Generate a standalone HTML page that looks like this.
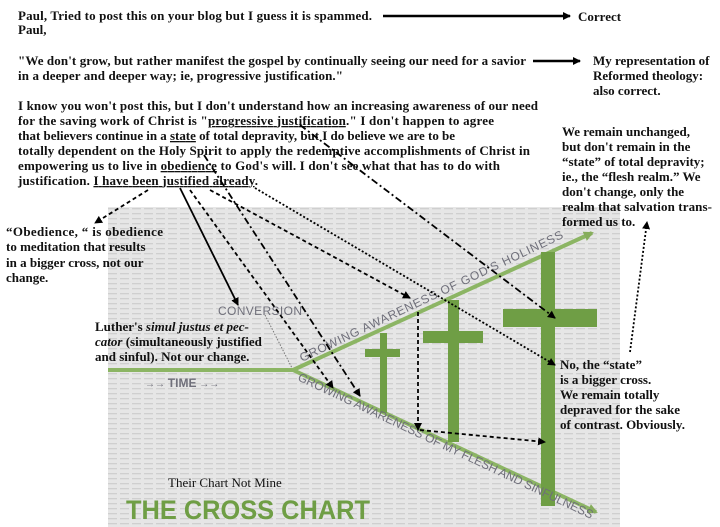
<!DOCTYPE html>
<html><head><meta charset="utf-8"><style>
html,body{margin:0;padding:0;background:#fff;width:720px;height:527px;overflow:hidden}
svg{display:block}
.t{font-family:"Liberation Serif",serif;font-weight:bold;font-size:13px;fill:#111}
.g{font-family:"Liberation Sans",sans-serif;fill:#6f6f7a}
</style></head><body>
<svg width="720" height="527" viewBox="0 0 720 527" xmlns="http://www.w3.org/2000/svg">
<defs>
<pattern id="st" width="12" height="5" patternUnits="userSpaceOnUse">
<rect width="12" height="5" fill="#e6e6e6"/>
<rect x="0" y="3" width="9" height="1.3" fill="#cfcfcf"/>
</pattern>
<marker id="ah" markerWidth="8" markerHeight="8" refX="7" refY="4" orient="auto" markerUnits="userSpaceOnUse"><path d="M0,0 L8,4 L0,8 z" fill="#000"/></marker>
<marker id="ag" markerWidth="10" markerHeight="10" refX="8" refY="5" orient="auto" markerUnits="userSpaceOnUse"><path d="M0,0 L10,5 L0,10 z" fill="#86ad5c"/></marker>
</defs>
<rect x="108" y="207" width="512" height="320" fill="url(#st)"/>

<g stroke="#8cb564" stroke-width="4" fill="none">
<line x1="108" y1="370" x2="293" y2="370"/>
<line x1="293" y1="370" x2="592" y2="233" marker-end="url(#ag)"/>
<line x1="293" y1="370" x2="596" y2="512" marker-end="url(#ag)"/>
</g>
<g fill="#6f9e45">
<rect x="380" y="333" width="7" height="80"/><rect x="365" y="349" width="35" height="8"/>
<rect x="448" y="300" width="11" height="142"/><rect x="423" y="331" width="60" height="12"/>
<rect x="541" y="252" width="14" height="254"/><rect x="503" y="309" width="94" height="18"/>
</g>
<text class="g" x="218" y="315" font-size="12" textLength="84">CONVERSION</text>
<text class="g" x="145" y="387" font-size="10">→→ <tspan font-weight="bold" font-size="12">TIME</tspan> →→</text>
<text class="g" font-size="12" transform="translate(302,362) rotate(-25.4)" textLength="290">GROWING AWARENESS OF GOD'S HOLINESS</text>
<text class="g" font-size="12" transform="translate(297,380) rotate(25.3)" textLength="325">GROWING AWARENESS OF MY FLESH AND SINFULNESS</text>
<text class="t" x="168" y="487" font-size="14" style="font-weight:normal">Their Chart Not Mine</text>
<text x="126" y="519" font-family="Liberation Sans,sans-serif" font-weight="bold" font-size="27" fill="#6f9e45" textLength="244" lengthAdjust="spacingAndGlyphs">THE CROSS CHART</text>

<text class="t" x="18" y="20" textLength="354">Paul, Tried to post this on your blog but I guess it is spammed.</text>
<text class="t" x="18" y="34">Paul,</text>
<text class="t" x="18" y="65" textLength="508">"We don't grow, but rather manifest the gospel by continually seeing our need for a savior</text>
<text class="t" x="18" y="80" textLength="325">in a deeper and deeper way; ie, progressive justification."</text>
<text class="t" x="18" y="110" textLength="520">I know you won't post this, but I don't understand how an increasing awareness of our need</text>
<text class="t" x="18" y="125" textLength="476">for the saving work of Christ is "<tspan text-decoration="underline">progressive justification</tspan>."  I don't happen to agree</text>
<text class="t" x="18" y="140" textLength="437">that believers continue in a <tspan text-decoration="underline">state</tspan> of total depravity, but I do believe we are to be</text>
<text class="t" x="18" y="155" textLength="512">totally dependent on the Holy Spirit to apply the redemptive accomplishments of Christ in</text>
<text class="t" x="18" y="170" textLength="482">empowering us to live in <tspan text-decoration="underline">obedience</tspan> to God's will. I don't see what that has to do with</text>
<text class="t" x="18" y="185" textLength="240">justification.  <tspan text-decoration="underline">I have been justified already</tspan>.</text>
<text class="t" x="578" y="21">Correct</text>
<text class="t" x="593" y="65">My representation of</text>
<text class="t" x="593" y="80">Reformed theology:</text>
<text class="t" x="593" y="95">also correct.</text>
<g class="t">
<text x="562" y="136">We remain unchanged,</text>
<text x="562" y="151">but don't remain in the</text>
<text x="562" y="166">“state” of total depravity;</text>
<text x="562" y="181">ie., the “flesh realm.” We</text>
<text x="562" y="196">don't  change,  only the</text>
<text x="562" y="211" textLength="150">realm that salvation trans-</text>
<text x="562" y="226">formed us to.</text>
<text x="560" y="369">No, the “state”</text>
<text x="560" y="384">is a bigger cross.</text>
<text x="560" y="399">We remain totally</text>
<text x="560" y="414">depraved  for the sake</text>
<text x="560" y="429">of contrast. Obviously.</text>
<text x="6" y="236" textLength="157">“Obedience, “ is obedience</text>
<text x="6" y="251">to meditation that results</text>
<text x="6" y="267">in a bigger cross, not our</text>
<text x="6" y="282">change.</text>
<text x="95" y="331">Luther's  <tspan font-style="italic">simul justus et pec-</tspan></text>
<text x="95" y="346"><tspan font-style="italic">cator</tspan> (simultaneously justified</text>
<text x="95" y="361">and sinful). Not our change.</text>
</g>

<g stroke="#000" fill="none" stroke-width="1.8">
<line x1="383" y1="16" x2="570" y2="16" stroke-width="2.5" marker-end="url(#ah)"/>
<line x1="533" y1="61" x2="580" y2="61" stroke-width="2.5" marker-end="url(#ah)"/>
<line x1="180" y1="188" x2="238" y2="305" marker-end="url(#ah)"/>
<line x1="148" y1="190" x2="95" y2="223" stroke-dasharray="4,3" marker-end="url(#ah)"/>
<line x1="190" y1="190" x2="333" y2="388" stroke-dasharray="4,3" marker-end="url(#ah)"/>
<line x1="204" y1="155" x2="360" y2="396" stroke-dasharray="7,3,2,3" marker-end="url(#ah)"/>
<line x1="210" y1="190" x2="410" y2="298" stroke-dasharray="4,3" marker-end="url(#ah)"/>
<line x1="418" y1="312" x2="418" y2="430" stroke-dasharray="4,3" marker-end="url(#ah)"/>
<line x1="420" y1="430" x2="545" y2="442" stroke-dasharray="4,3" marker-end="url(#ah)"/>
<line x1="300" y1="125" x2="555" y2="318" stroke-dasharray="7,3,2,3" marker-end="url(#ah)"/>
<line x1="255" y1="188" x2="555" y2="365" stroke-dasharray="2,2" marker-end="url(#ah)"/>
<line x1="630" y1="352" x2="647" y2="222" stroke-dasharray="2,2" marker-end="url(#ah)"/>
<line x1="265" y1="315" x2="292" y2="368" stroke="#777" stroke-width="1" stroke-dasharray="1.5,1.5"/>
</g>
</svg>
</body></html>
